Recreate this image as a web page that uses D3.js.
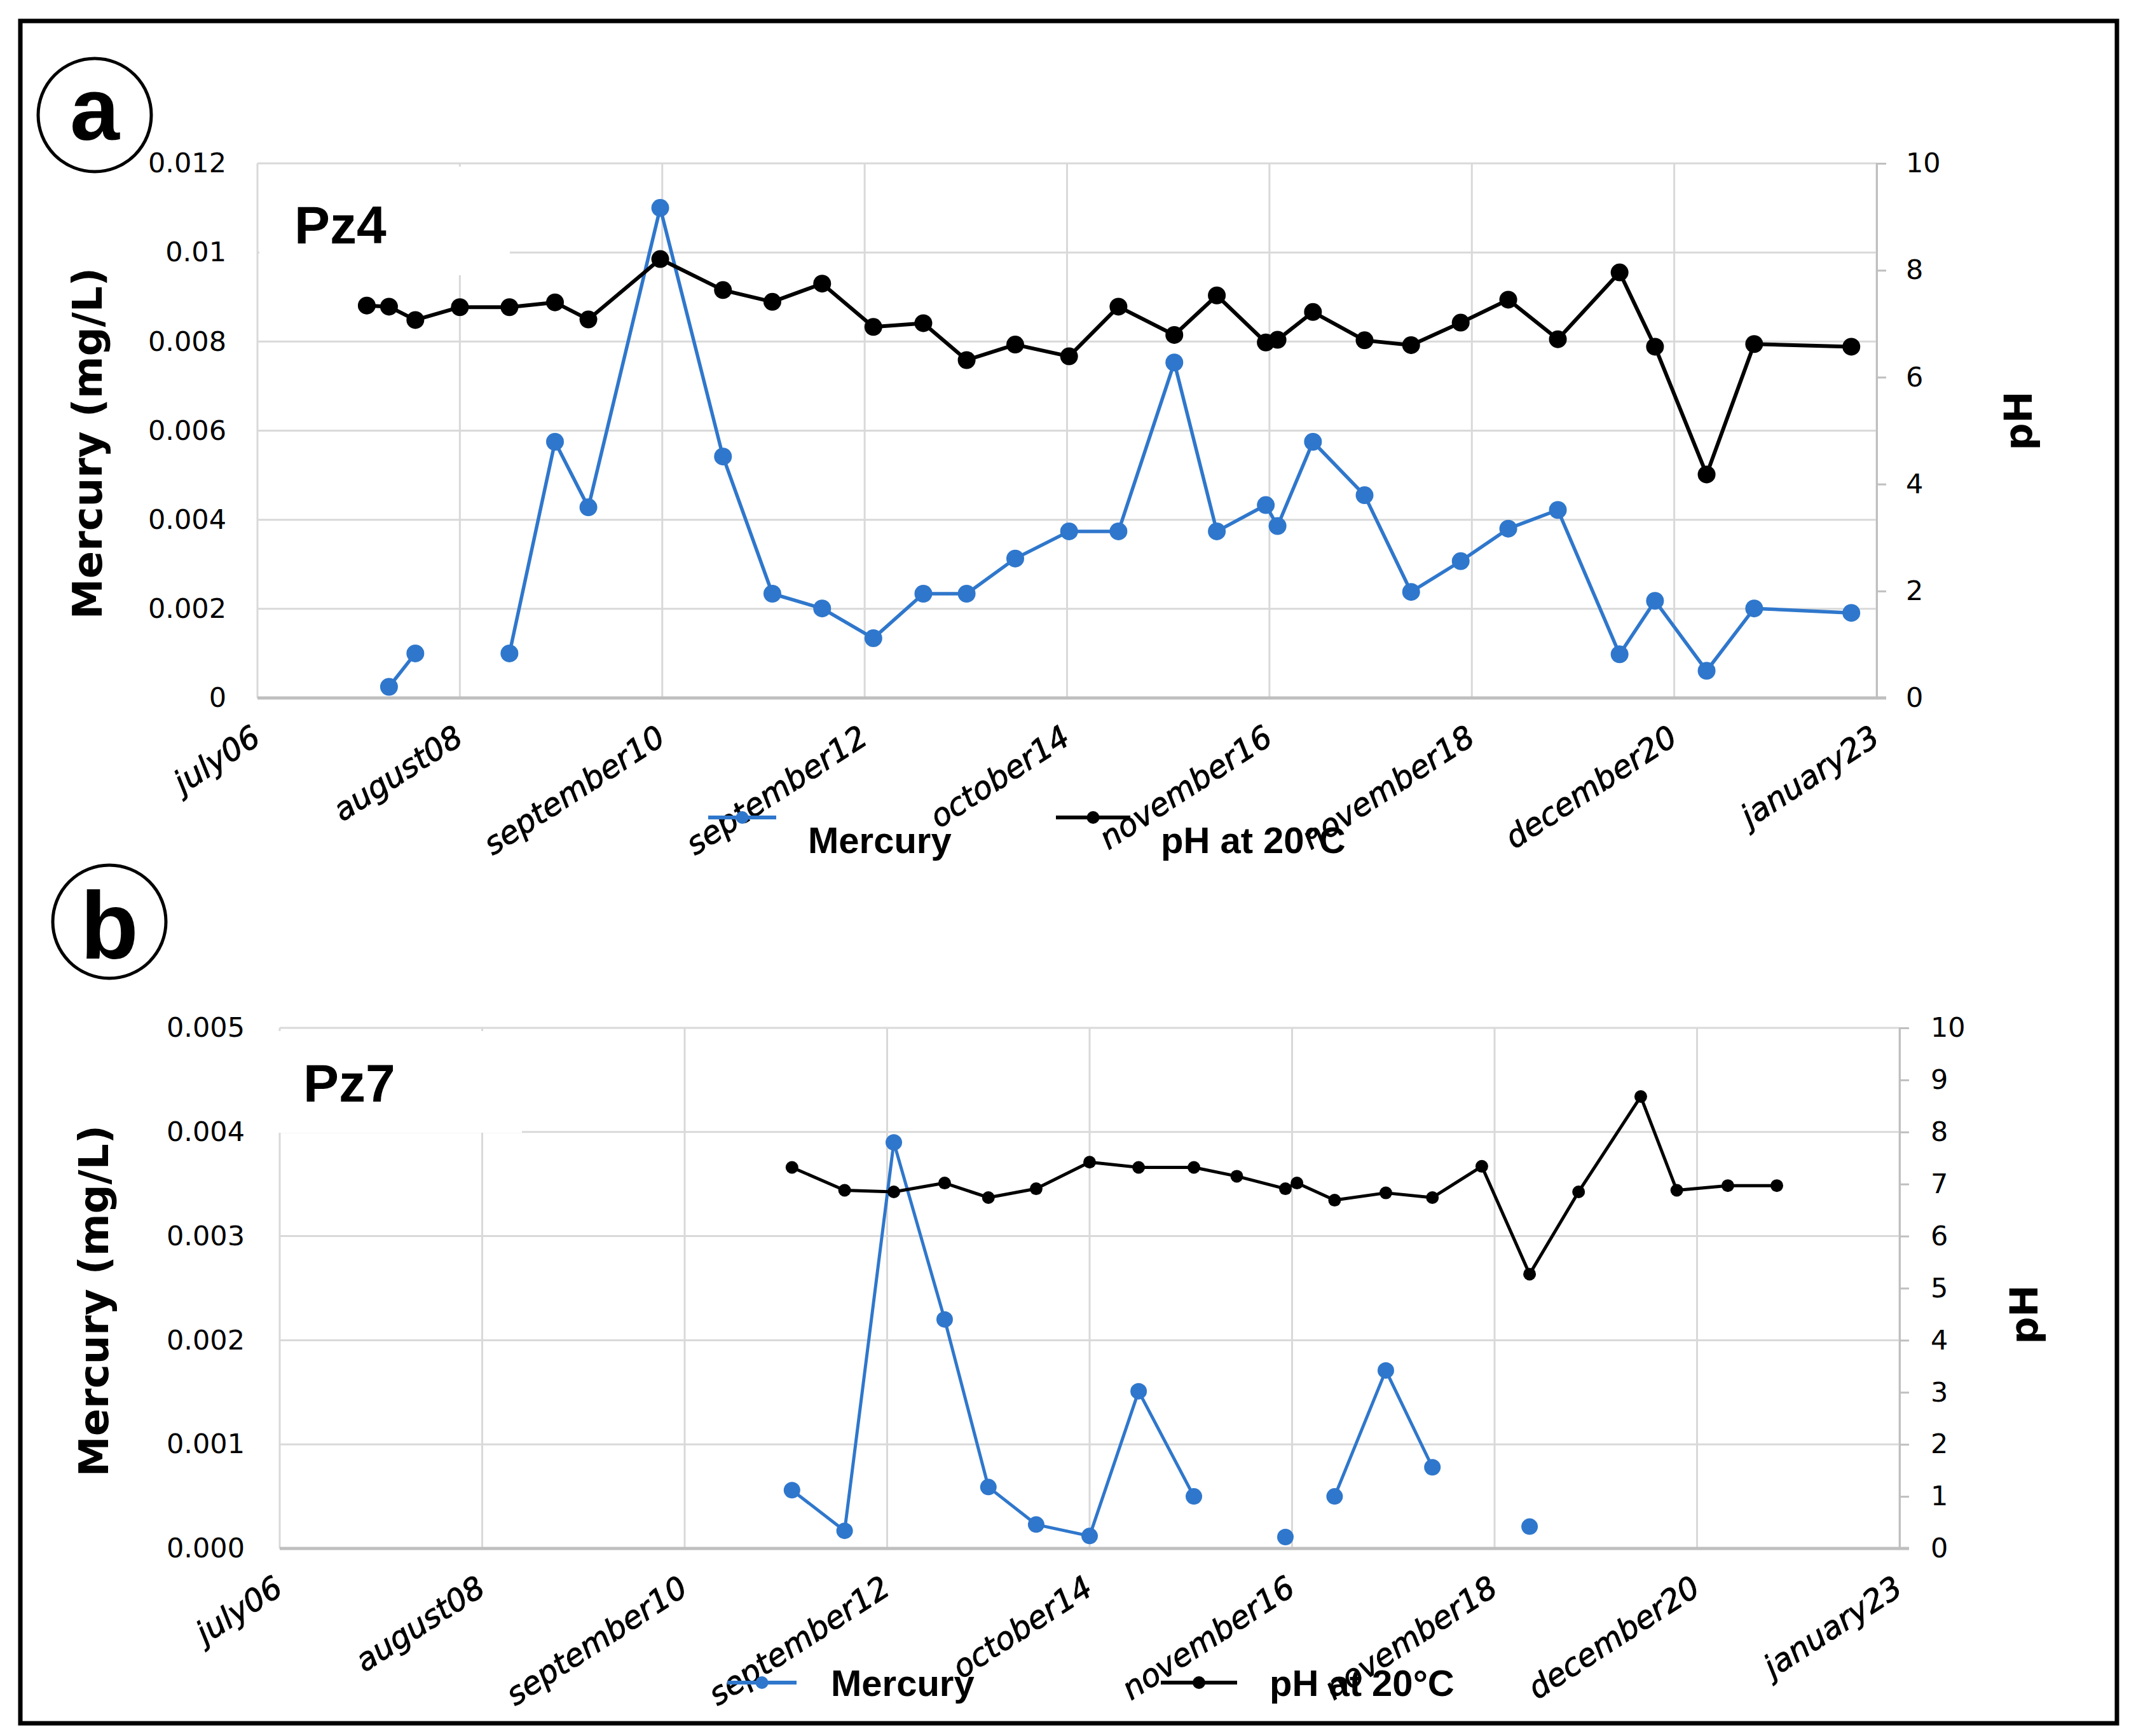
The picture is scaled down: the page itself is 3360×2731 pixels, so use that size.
<!DOCTYPE html>
<html>
<head>
<meta charset="utf-8">
<script src="https://d3js.org/d3.v7.min.js"></script>
<style>
  body { margin: 0; background: #fff; }
  svg text { font-family: "Liberation Sans", Arial, sans-serif; fill: #000; }
  .dv { font-family: "DejaVu Sans", sans-serif; }
</style>
</head>
<body>
<script>
  const dateLabels = ["july06", "august08", "september10", "september12", "october14",
    "november16", "november18", "december20", "january23"];

  // Pz4 : sampling position on the date axis (in label steps), pH and mercury
  const pz4Pos = [0.54, 0.65, 0.78, 1.00, 1.245, 1.47, 1.635, 1.99, 2.30, 2.544,
    2.79, 3.043, 3.29, 3.504, 3.744, 4.01, 4.254, 4.53, 4.74, 4.982,
    5.04, 5.215, 5.47, 5.70, 5.945, 6.18, 6.425, 6.73, 6.905, 7.16, 7.395, 7.875];
  const pz4PH = [7.34, 7.32, 7.07, 7.31, 7.31, 7.40, 7.08, 8.21, 7.63, 7.41,
    7.75, 6.94, 7.01, 6.32, 6.61, 6.39, 7.32, 6.79, 7.53, 6.65,
    6.70, 7.22, 6.69, 6.60, 7.02, 7.45, 6.71, 7.96, 6.57, 4.18, 6.62, 6.57];
  const pz4Hg = [null, 0.00025, 0.0010, null, 0.0010, 0.00575, 0.00428, 0.0110, 0.00542, 0.00234,
    0.00201, 0.00134, 0.00234, 0.00234, 0.00313, 0.00374, 0.00374, 0.00753, 0.00374, 0.00433,
    0.00386, 0.00575, 0.00455, 0.00238, 0.00307, 0.0038, 0.00422, 0.00098, 0.00218, 0.00061, 0.00201, 0.00191];
  const pz4HgTicks = [0, 0.002, 0.004, 0.006, 0.008, 0.01, 0.012];
  const pz4PhTicks = [0, 2, 4, 6, 8, 10];

  // Pz7
  const pz7Pos = [2.53, 2.79, 3.033, 3.284, 3.50, 3.736, 4.0, 4.242, 4.515, 4.727,
    4.967, 5.024, 5.21, 5.463, 5.693, 5.937, 6.173, 6.415, 6.722, 6.9, 7.152, 7.394];
  const pz7PH = [7.32, 6.88, 6.85, 7.02, 6.74, 6.91, 7.42, 7.32, 7.32, 7.15,
    6.91, 7.02, 6.69, 6.83, 6.74, 7.34, 5.27, 6.85, 8.68, 6.88, 6.97, 6.97];
  const pz7Hg = [0.00056, 0.00017, 0.0039, 0.0022, 0.00059, 0.00023, 0.00012, 0.00151, 0.0005, null,
    0.00011, null, 0.0005, 0.00171, 0.00078, null, 0.00021, null, null, null, null, null];
  const pz7HgTicks = [0, 0.001, 0.002, 0.003, 0.004, 0.005];
  const pz7PhTicks = [0, 1, 2, 3, 4, 5, 6, 7, 8, 9, 10];

  const blue = "#2f77cc";
  const grid = "#d9d9d9";

  const svg = d3.select("body").append("svg")
    .attr("width", 3360)
    .attr("height", 2731);

  // outer frame
  svg.append("rect")
    .attr("x", 32).attr("y", 33).attr("width", 3298).attr("height", 2678)
    .attr("fill", "none").attr("stroke", "#000").attr("stroke-width", 7);

  function drawPanel(p) {
    const g = svg.append("g");
    const x = d3.scaleLinear().domain([0, 8]).range([p.left, p.right]);
    const yHg = d3.scaleLinear().domain([0, p.hgTicks[p.hgTicks.length - 1]]).range([p.bottom, p.top]);
    const yPH = d3.scaleLinear().domain([0, 10]).range([p.bottom, p.top]);

    // gridlines
    g.append("g").selectAll("line")
      .data(p.hgTicks)
      .join("line")
      .attr("x1", p.left).attr("x2", p.right)
      .attr("y1", d => yHg(d)).attr("y2", d => yHg(d))
      .attr("stroke", grid).attr("stroke-width", 3);
    g.append("g").selectAll("line")
      .data(dateLabels)
      .join("line")
      .attr("x1", (d, i) => x(i)).attr("x2", (d, i) => x(i))
      .attr("y1", p.top).attr("y2", p.bottom)
      .attr("stroke", grid).attr("stroke-width", 3);

    // the station label box hides part of the grid
    g.append("rect")
      .attr("x", p.box[0]).attr("y", p.box[1]).attr("width", p.box[2]).attr("height", p.box[3])
      .attr("fill", "#fff");
    g.append("text")
      .attr("x", p.labelX).attr("y", p.labelY)
      .style("font-size", "84px").style("font-weight", "bold")
      .text(p.name);

    // left axis
    const left = g.append("g")
      .attr("transform", "translate(" + p.left + ",0)")
      .call(d3.axisLeft(yHg).tickValues(p.hgTicks).tickFormat(p.hgFmt).tickSize(0).tickPadding(p.padL));
    left.select(".domain").remove();
    left.selectAll("text").attr("class", "dv").style("font-size", "43px").attr("font-family", null);

    // right axis
    const right = g.append("g")
      .attr("transform", "translate(" + p.right + ",0)")
      .call(d3.axisRight(yPH).tickValues(p.phTicks).tickSize(15).tickPadding(p.padR));
    right.select(".domain").attr("stroke", "#bfbfbf").attr("stroke-width", 3);
    right.selectAll(".tick line").attr("stroke", "#bfbfbf").attr("stroke-width", 3);
    right.selectAll("text").attr("class", "dv").style("font-size", "43px").attr("font-family", null);

    // bottom axis line
    g.append("line")
      .attr("x1", p.left).attr("x2", p.right + 15)
      .attr("y1", p.bottom).attr("y2", p.bottom)
      .attr("stroke", "#bfbfbf").attr("stroke-width", 5);

    // date labels
    g.append("g").selectAll("text")
      .data(dateLabels)
      .join("text")
      .attr("class", "dv")
      .attr("transform", (d, i) => "translate(" + (x(i) + 8) + "," + (p.bottom + 70) + ") rotate(-33)")
      .attr("text-anchor", "end")
      .attr("stroke", "#000").attr("stroke-width", 0.9)
      .style("font-size", "49px").style("font-style", "italic")
      .text(d => d);

    // axis titles
    g.append("text")
      .attr("class", "dv")
      .attr("transform", "translate(" + p.titleLX + "," + ((p.top + p.bottom) / 2 + 20) + ") rotate(-90)")
      .attr("text-anchor", "middle")
      .style("font-size", "64px").style("font-weight", "bold")
      .text("Mercury (mg/L)");
    g.append("text")
      .attr("class", "dv")
      .attr("transform", "translate(" + p.titleRX + "," + p.titleRY + ") rotate(-90)")
      .attr("text-anchor", "middle")
      .style("font-size", "60px").style("font-weight", "bold")
      .text("pH");

    // series
    const hgPts = p.pos.map((d, i) => ({ u: d, v: p.hg[i] }));
    const phPts = p.pos.map((d, i) => ({ u: d, v: p.ph[i] }));

    const hgLine = d3.line().defined(d => d.v !== null).x(d => x(d.u)).y(d => yHg(d.v));
    const phLine = d3.line().defined(d => d.v !== null).x(d => x(d.u)).y(d => yPH(d.v));

    g.append("path").datum(hgPts)
      .attr("d", hgLine)
      .attr("fill", "none").attr("stroke", blue).attr("stroke-width", p.hgW)
      .attr("stroke-linejoin", "round");
    g.append("g").selectAll("circle")
      .data(hgPts.filter(d => d.v !== null))
      .join("circle")
      .attr("cx", d => x(d.u)).attr("cy", d => yHg(d.v))
      .attr("r", p.hgR).attr("fill", blue);

    g.append("path").datum(phPts)
      .attr("d", phLine)
      .attr("fill", "none").attr("stroke", "#000").attr("stroke-width", p.phW)
      .attr("stroke-linejoin", "round");
    g.append("g").selectAll("circle")
      .data(phPts)
      .join("circle")
      .attr("cx", d => x(d.u)).attr("cy", d => yPH(d.v))
      .attr("r", p.phR).attr("fill", "#000");

    // legend
    const lg = g.append("g");
    lg.append("line")
      .attr("x1", p.legHg[0]).attr("x2", p.legHg[1]).attr("y1", p.legY).attr("y2", p.legY)
      .attr("stroke", blue).attr("stroke-width", 6);
    lg.append("circle")
      .attr("cx", (p.legHg[0] + p.legHg[1]) / 2).attr("cy", p.legY).attr("r", 10).attr("fill", blue);
    lg.append("text")
      .attr("x", p.legHg[2]).attr("y", p.legTextY)
      .style("font-size", "58px").style("font-weight", "bold")
      .text("Mercury");
    lg.append("line")
      .attr("x1", p.legPh[0]).attr("x2", p.legPh[1]).attr("y1", p.legY).attr("y2", p.legY)
      .attr("stroke", "#000").attr("stroke-width", 6);
    lg.append("circle")
      .attr("cx", (p.legPh[0] + p.legPh[1]) / 2).attr("cy", p.legY).attr("r", 10).attr("fill", "#000");
    lg.append("text")
      .attr("x", p.legPh[2]).attr("y", p.legTextY)
      .style("font-size", "58px").style("font-weight", "bold")
      .text("pH at 20\u00b0C");

    // panel letter
    g.append("circle")
      .attr("cx", p.letter[0]).attr("cy", p.letter[1]).attr("r", 89)
      .attr("fill", "none").attr("stroke", "#000").attr("stroke-width", 5);
    g.append("text")
      .attr("x", p.letter[0]).attr("y", p.letter[1] + p.letter[3])
      .attr("text-anchor", "middle")
      .style("font-size", p.letter[2] + "px").style("font-weight", "bold")
      .text(p.letter[4]);
  }

  drawPanel({
    name: "Pz4", left: 405, right: 2952, top: 257, bottom: 1098,
    pos: pz4Pos, ph: pz4PH, hg: pz4Hg, hgTicks: pz4HgTicks, phTicks: pz4PhTicks,
    hgFmt: d3.format("~g"), padL: 49, padR: 31,
    box: [408, 262, 394, 171], labelX: 463, labelY: 383,
    titleLX: 160, titleRX: 3196, titleRY: 662,
    hgW: 5.5, phW: 6, hgR: 14, phR: 14,
    legY: 1286, legTextY: 1342, legHg: [1114, 1221, 1271], legPh: [1661, 1778, 1826],
    letter: [149, 181, 140, 39, "a"]
  });

  drawPanel({
    name: "Pz7", left: 440, right: 2988, top: 1617, bottom: 2436,
    pos: pz7Pos, ph: pz7PH, hg: pz7Hg, hgTicks: pz7HgTicks, phTicks: pz7PhTicks,
    hgFmt: d3.format(".3f"), padL: 55, padR: 34,
    box: [436, 1622, 385, 160], labelX: 477, labelY: 1733,
    titleLX: 170, titleRX: 3205, titleRY: 2068,
    hgW: 5, phW: 5, hgR: 13, phR: 10,
    legY: 2647, legTextY: 2668, legHg: [1144, 1253, 1307], legPh: [1826, 1946, 1997],
    letter: [172, 1450, 150, 58, "b"]
  });
</script>
</body>
</html>
